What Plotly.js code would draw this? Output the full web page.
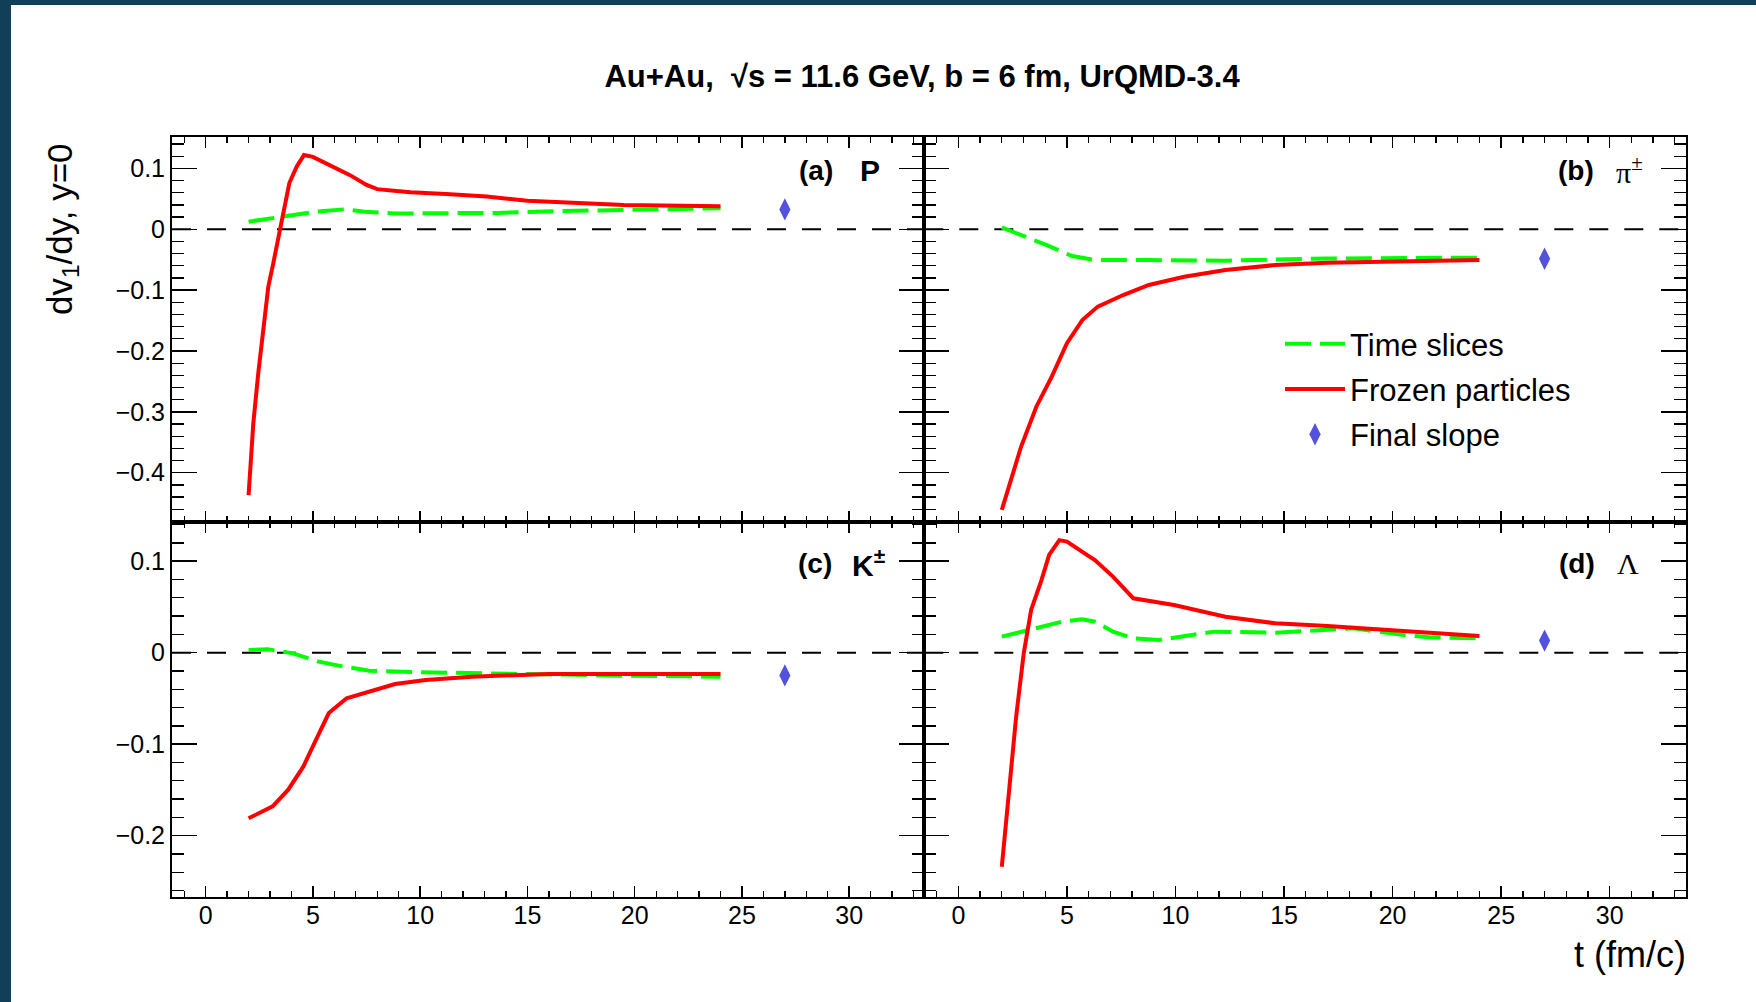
<!DOCTYPE html>
<html>
<head>
<meta charset="utf-8">
<script src="https://cdn.plot.ly/plotly-3.0.1.min.js"></script>
<style>
  html, body { margin: 0; padding: 0; background: #ffffff; }
  #chart { width: 1756px; height: 1002px; }
</style>
</head>
<body>
<div id="chart"></div>
<script>
// ---------------- data ----------------
// (a) protons
var tP_green = [2.0, 3.1, 4.3, 5.15, 6.45, 7.4, 8.8, 11.2, 13.6, 16.4, 19.5, 24.0];
var vP_green = [0.0125, 0.018, 0.0235, 0.029, 0.0328, 0.029, 0.026, 0.026, 0.027, 0.030, 0.0317, 0.0345];
var tP_red = [2.0, 2.22, 2.45, 2.69, 2.92, 3.15, 3.47, 3.7, 3.9, 4.24, 4.58, 5.0, 5.95, 6.73, 7.5, 8.0, 8.9, 9.55, 11.2, 13.1, 15.0, 17.2, 19.5, 24.0];
var vP_red = [-0.437, -0.319, -0.237, -0.166, -0.094, -0.056, 0.0, 0.043, 0.076, 0.103, 0.122, 0.119, 0.103, 0.089, 0.073, 0.066, 0.063, 0.061, 0.058, 0.054, 0.047, 0.043, 0.040, 0.038];
// (b) pions
var tPi_green = [2.0, 2.89, 4.07, 5.24, 6.3, 8.77, 12.3, 17.0, 24.0];
var vPi_green = [0.003, -0.0094, -0.026, -0.044, -0.0505, -0.0505, -0.0515, -0.048, -0.0466];
var tPi_red = [2.0, 2.42, 2.89, 3.59, 4.3, 5.0, 5.71, 6.42, 7.59, 8.77, 10.4, 12.3, 14.6, 17.0, 20.5, 24.0];
var vPi_red = [-0.461, -0.412, -0.357, -0.2915, -0.242, -0.187, -0.149, -0.127, -0.108, -0.0915, -0.078, -0.067, -0.0587, -0.055, -0.053, -0.0505];
// (c) kaons
var tK_green = [2.0, 2.89, 4.07, 5.27, 6.45, 7.64, 10.0, 12.4, 16.0, 19.5, 24.0];
var vK_green = [0.003, 0.0037, -0.0007, -0.0098, -0.0153, -0.0197, -0.0214, -0.0225, -0.0233, -0.0251, -0.0262];
var tK_red = [2.0, 3.12, 3.84, 4.55, 5.14, 5.74, 6.57, 7.64, 8.83, 10.26, 12.4, 16.0, 24.0];
var vK_red = [-0.181, -0.168, -0.150, -0.1246, -0.0954, -0.066, -0.0498, -0.0426, -0.0342, -0.0298, -0.0262, -0.0233, -0.0233];
// (d) lambdas
var tL_green = [2.0, 3.35, 4.77, 5.71, 6.3, 7.12, 8.06, 9.24, 10.6, 11.8, 14.6, 17.0, 18.2, 20.5, 21.7, 24.0];
var vL_green = [0.0175, 0.0256, 0.0339, 0.0365, 0.0339, 0.023, 0.0157, 0.0139, 0.0183, 0.023, 0.0219, 0.0256, 0.0266, 0.0193, 0.0168, 0.0157];
var tL_red = [2.0, 2.18, 2.42, 2.66, 3.01, 3.35, 3.83, 4.18, 4.65, 5.0, 6.3, 7.12, 8.06, 9.93, 12.3, 14.6, 17.0, 20.5, 24.0];
var vL_red = [-0.234, -0.190, -0.128, -0.070, -0.0007, 0.0467, 0.0795, 0.1068, 0.123, 0.1215, 0.101, 0.0831, 0.0594, 0.0521, 0.0393, 0.0321, 0.0292, 0.024, 0.0183];
// final slopes
var tFinal = [27];
var vFinal_P = [0.0327];
var vFinal_Pi = [-0.0483];
var vFinal_K = [-0.0248];
var vFinal_L = [0.0132];

var seriesNames = ["Time slices", "Frozen particles", "Final slope"];
var panelLabels = ["(a)", "(b)", "(c)", "(d)"];
var particleLabels = ["P", "π<sup>±</sup>", "K<sup>±</sup>", "Λ"];
var xTickStep = 5, xMinorStep = 1, yTickStep = 0.1, yMinorStep = 0.02;

// ---------------- layout helpers ----------------
var W = 1756, H = 1002;
function px(x) { return x / W; }
function py(y) { return 1 - y / H; }
var FONT = "Liberation Sans, Arial, Helvetica, sans-serif";
var GREEN = "#00ff00", RED = "#ff0000", BLUE = "#5252dc";

var panels = [
  {tg: tP_green, vg: vP_green, tr: tP_red, vr: vP_red, vf: vFinal_P, xa: "x", ya: "y"},
  {tg: tPi_green, vg: vPi_green, tr: tPi_red, vr: vPi_red, vf: vFinal_Pi, xa: "x2", ya: "y2"},
  {tg: tK_green, vg: vK_green, tr: tK_red, vr: vK_red, vf: vFinal_K, xa: "x3", ya: "y3"},
  {tg: tL_green, vg: vL_green, tr: tL_red, vr: vL_red, vf: vFinal_L, xa: "x4", ya: "y4"}
];

var traces = [];
panels.forEach(function (p, i) {
  var leg = (i === 1);
  traces.push({
    x: p.tg, y: p.vg, xaxis: p.xa, yaxis: p.ya, type: "scatter", mode: "lines",
    name: seriesNames[0], legendgroup: "g1", showlegend: leg,
    line: {color: GREEN, width: 4, dash: "26px,9px"}
  });
  traces.push({
    x: p.tr, y: p.vr, xaxis: p.xa, yaxis: p.ya, type: "scatter", mode: "lines",
    name: seriesNames[1], legendgroup: "g2", showlegend: leg,
    line: {color: RED, width: 4}
  });
  traces.push({
    x: tFinal, y: p.vf, xaxis: p.xa, yaxis: p.ya, type: "scatter", mode: "markers",
    name: seriesNames[2], legendgroup: "g3", showlegend: leg,
    marker: {symbol: "diamond-tall", size: 16, color: BLUE, line: {width: 0}}
  });
});

function xAxis(domain, anchor, labels) {
  return {
    domain: domain, anchor: anchor, range: [-1.57, 33.5],
    tickmode: "linear", tick0: 0, dtick: xTickStep,
    ticks: "inside", ticklen: 11, tickwidth: 1.5, tickcolor: "#000",
    minor: {dtick: xMinorStep, ticks: "inside", ticklen: 6, tickwidth: 1.3, tickcolor: "#000"},
    showline: true, linecolor: "#000", linewidth: 2, mirror: "allticks",
    showgrid: false, zeroline: false, showticklabels: labels, ticklabelstandoff: -5,
    tickfont: {family: FONT, size: 25, color: "#000"}
  };
}
function yAxis(domain, anchor, range, labels) {
  return {
    domain: domain, anchor: anchor, range: range,
    tickmode: "linear", tick0: 0, dtick: yTickStep,
    ticks: "inside", ticklen: 25, tickwidth: 1.5, tickcolor: "#000",
    minor: {dtick: yMinorStep, ticks: "inside", ticklen: 12, tickwidth: 1.3, tickcolor: "#000"},
    showline: true, linecolor: "#000", linewidth: 2, mirror: "allticks",
    showgrid: false, zeroline: false, showticklabels: labels,
    tickfont: {family: FONT, size: 25, color: "#000"}
  };
}

var xL = [px(172), px(924.3)], xR = [px(924.3), px(1685.7)];
var yT = [py(522.3), py(137)], yB = [py(897), py(522.3)];
var rT = [-0.4815, 0.1517], rB = [-0.267, 0.1425];

var shapes = [
  // dark frame of the picture
  {type: "rect", xref: "paper", yref: "paper", x0: 0, x1: px(11), y0: 0, y1: 1, fillcolor: "#113f57", line: {width: 0}},
  {type: "rect", xref: "paper", yref: "paper", x0: 0, x1: 1, y0: py(5), y1: 1, fillcolor: "#113f57", line: {width: 0}}
];
["y", "y2", "y3", "y4"].forEach(function (ya, i) {
  var xa = ["x", "x2", "x3", "x4"][i];
  shapes.push({type: "line", xref: xa + " domain", yref: ya, x0: 0, x1: 1, y0: 0, y1: 0,
    line: {color: "#000", width: 2, dash: "19px,16px"}, layer: "below"});
});

var annotations = [
  {text: "dv<sub>1</sub>/dy, y=0", xref: "paper", yref: "paper", x: px(62), y: py(229), textangle: -90,
   xanchor: "center", yanchor: "middle", showarrow: false, font: {family: FONT, size: 35, color: "#000"}},
  {text: "t (fm/c)", xref: "paper", yref: "paper", x: px(1688), y: py(954),
   xanchor: "right", yanchor: "middle", showarrow: false, font: {family: FONT, size: 36, color: "#000"}}
];
var labPos = [[816, 170], [1576, 170], [815, 563], [1577, 563]];
var partPos = [[858, 170], [1614, 170], [850, 563], [1615, 563]];
var partFont = [FONT, "Liberation Serif, Times New Roman, serif", FONT, "Liberation Serif, Times New Roman, serif"];
panelLabels.forEach(function (lab, i) {
  annotations.push({text: "<b>" + lab + "</b>", xref: "paper", yref: "paper", x: px(labPos[i][0]), y: py(labPos[i][1]),
    xanchor: "center", yanchor: "middle", showarrow: false, font: {family: FONT, size: 28, color: "#000"}});
  var pt = (i === 0 || i === 2) ? "<b>" + particleLabels[i] + "</b>" : particleLabels[i];
  annotations.push({text: pt, xref: "paper", yref: "paper", x: px(partPos[i][0]), y: py(partPos[i][1]),
    xanchor: "left", yanchor: "middle", showarrow: false, font: {family: partFont[i], size: 30, color: "#000"}});
});

var layout = {
  width: W, height: H, autosize: false,
  margin: {l: 0, r: 0, t: 0, b: 0, pad: 0},
  paper_bgcolor: "#ffffff", plot_bgcolor: "rgba(0,0,0,0)",
  title: {text: "<b>Au+Au,  √s = 11.6 GeV, b = 6 fm, UrQMD-3.4</b>", x: px(922), y: py(76),
    xanchor: "center", yanchor: "middle", font: {family: FONT, size: 31, color: "#000"}},
  showlegend: true,
  legend: {x: px(1280), y: py(317), xanchor: "left", yanchor: "top", bgcolor: "rgba(0,0,0,0)",
    borderwidth: 0, font: {family: FONT, size: 31, color: "#000"}, itemwidth: 60,
    traceorder: "grouped", tracegroupgap: 2},
  xaxis: xAxis(xL, "y", false),
  xaxis2: xAxis(xR, "y2", false),
  xaxis3: xAxis(xL, "y3", true),
  xaxis4: xAxis(xR, "y4", true),
  yaxis: yAxis(yT, "x", rT, true),
  yaxis2: yAxis(yT, "x2", rT, false),
  yaxis3: yAxis(yB, "x3", rB, true),
  yaxis4: yAxis(yB, "x4", rB, false),
  shapes: shapes,
  annotations: annotations
};

Plotly.newPlot("chart", traces, layout, {displayModeBar: false, staticPlot: true});
</script>
</body>
</html>
